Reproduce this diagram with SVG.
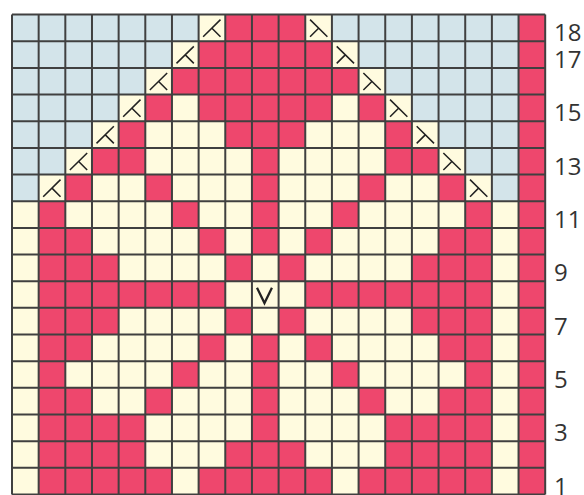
<svg xmlns="http://www.w3.org/2000/svg" width="584" height="495" viewBox="0 0 584 495">
<style>
.c{fill:#fffbdf}
.b{fill:#d3e4ea}
.r{fill:#ee476d}
.grid{fill:none;stroke:#404040;stroke-width:0.075}
.sym{fill:none;stroke:#222;stroke-width:0.058;stroke-linecap:butt}
.v{fill:none;stroke:#222;stroke-width:0.085;stroke-linejoin:miter}
.lbl{font-family:"Open Sans","Noto Sans",sans-serif;font-size:24px;fill:#333}
</style>
<defs>
<path id="dl" d="M0.17 0.83 L0.82 0.19 M0.5 0.51 L0.82 0.83"/>
<path id="dr" d="M0.83 0.83 L0.18 0.19 M0.5 0.51 L0.18 0.83"/>
</defs>
<rect width="584" height="495" fill="#fff"/>
<g id="chart" transform="translate(12 14.6) scale(26.66)">
<rect class="c" x="0" y="0" width="20" height="18"/>
<g id="blue">
<rect class="b" x="0" y="0" width="7" height="1"/><rect class="b" x="12" y="0" width="7" height="1"/>
<rect class="b" x="0" y="1" width="6" height="1"/><rect class="b" x="13" y="1" width="6" height="1"/>
<rect class="b" x="0" y="2" width="5" height="1"/><rect class="b" x="14" y="2" width="5" height="1"/>
<rect class="b" x="0" y="3" width="4" height="1"/><rect class="b" x="15" y="3" width="4" height="1"/>
<rect class="b" x="0" y="4" width="3" height="1"/><rect class="b" x="16" y="4" width="3" height="1"/>
<rect class="b" x="0" y="5" width="2" height="1"/><rect class="b" x="17" y="5" width="2" height="1"/>
<rect class="b" x="0" y="6" width="1" height="1"/><rect class="b" x="18" y="6" width="1" height="1"/>
</g>
<g id="red">
<rect class="r" x="19" y="0" width="1" height="18"/>
<rect class="r" x="8" y="0" width="3" height="1"/>
<rect class="r" x="7" y="1" width="5" height="1"/>
<rect class="r" x="6" y="2" width="7" height="1"/>
<rect class="r" x="5" y="3" width="1" height="1"/><rect class="r" x="7" y="3" width="5" height="1"/><rect class="r" x="13" y="3" width="1" height="1"/>
<rect class="r" x="4" y="4" width="1" height="1"/><rect class="r" x="8" y="4" width="3" height="1"/><rect class="r" x="14" y="4" width="1" height="1"/>
<rect class="r" x="3" y="5" width="2" height="1"/><rect class="r" x="9" y="5" width="1" height="1"/><rect class="r" x="14" y="5" width="2" height="1"/>
<rect class="r" x="2" y="6" width="1" height="1"/><rect class="r" x="5" y="6" width="1" height="1"/><rect class="r" x="9" y="6" width="1" height="1"/><rect class="r" x="13" y="6" width="1" height="1"/><rect class="r" x="16" y="6" width="1" height="1"/>
<rect class="r" x="1" y="7" width="1" height="1"/><rect class="r" x="6" y="7" width="1" height="1"/><rect class="r" x="9" y="7" width="1" height="1"/><rect class="r" x="12" y="7" width="1" height="1"/><rect class="r" x="17" y="7" width="1" height="1"/>
<rect class="r" x="1" y="8" width="2" height="1"/><rect class="r" x="7" y="8" width="1" height="1"/><rect class="r" x="9" y="8" width="1" height="1"/><rect class="r" x="11" y="8" width="1" height="1"/><rect class="r" x="16" y="8" width="2" height="1"/>
<rect class="r" x="1" y="9" width="3" height="1"/><rect class="r" x="8" y="9" width="1" height="1"/><rect class="r" x="10" y="9" width="1" height="1"/><rect class="r" x="15" y="9" width="3" height="1"/>
<rect class="r" x="1" y="10" width="7" height="1"/><rect class="r" x="11" y="10" width="7" height="1"/>
<rect class="r" x="1" y="11" width="3" height="1"/><rect class="r" x="8" y="11" width="1" height="1"/><rect class="r" x="10" y="11" width="1" height="1"/><rect class="r" x="15" y="11" width="3" height="1"/>
<rect class="r" x="1" y="12" width="2" height="1"/><rect class="r" x="7" y="12" width="1" height="1"/><rect class="r" x="9" y="12" width="1" height="1"/><rect class="r" x="11" y="12" width="1" height="1"/><rect class="r" x="16" y="12" width="2" height="1"/>
<rect class="r" x="1" y="13" width="1" height="1"/><rect class="r" x="6" y="13" width="1" height="1"/><rect class="r" x="9" y="13" width="1" height="1"/><rect class="r" x="12" y="13" width="1" height="1"/><rect class="r" x="17" y="13" width="1" height="1"/>
<rect class="r" x="1" y="14" width="2" height="1"/><rect class="r" x="5" y="14" width="1" height="1"/><rect class="r" x="9" y="14" width="1" height="1"/><rect class="r" x="13" y="14" width="1" height="1"/><rect class="r" x="16" y="14" width="2" height="1"/>
<rect class="r" x="1" y="15" width="4" height="1"/><rect class="r" x="9" y="15" width="1" height="1"/><rect class="r" x="14" y="15" width="4" height="1"/>
<rect class="r" x="1" y="16" width="4" height="1"/><rect class="r" x="8" y="16" width="3" height="1"/><rect class="r" x="14" y="16" width="4" height="1"/>
<rect class="r" x="1" y="17" width="5" height="1"/><rect class="r" x="7" y="17" width="5" height="1"/><rect class="r" x="13" y="17" width="5" height="1"/>
</g>
<path class="grid" d="M0 0V18M1 0V18M2 0V18M3 0V18M4 0V18M5 0V18M6 0V18M7 0V18M8 0V18M9 0V18M10 0V18M11 0V18M12 0V18M13 0V18M14 0V18M15 0V18M16 0V18M17 0V18M18 0V18M19 0V18M20 0V18M0 0H20M0 1H20M0 2H20M0 3H20M0 4H20M0 5H20M0 6H20M0 7H20M0 8H20M0 9H20M0 10H20M0 11H20M0 12H20M0 13H20M0 14H20M0 15H20M0 16H20M0 17H20M0 18H20"/>
<g id="symbols">
<use href="#dl" class="sym" x="7" y="0"/>
<use href="#dl" class="sym" x="6" y="1"/>
<use href="#dl" class="sym" x="5" y="2"/>
<use href="#dl" class="sym" x="4" y="3"/>
<use href="#dl" class="sym" x="3" y="4"/>
<use href="#dl" class="sym" x="2" y="5"/>
<use href="#dl" class="sym" x="1" y="6"/>
<use href="#dr" class="sym" x="11" y="0"/>
<use href="#dr" class="sym" x="12" y="1"/>
<use href="#dr" class="sym" x="13" y="2"/>
<use href="#dr" class="sym" x="14" y="3"/>
<use href="#dr" class="sym" x="15" y="4"/>
<use href="#dr" class="sym" x="16" y="5"/>
<use href="#dr" class="sym" x="17" y="6"/>
<path class="v" d="M9.19 10.25 L9.47 10.82 L9.75 10.25"/>
</g>
</g>
<g id="labels" class="lbl">
<text x="554" y="41.3">18</text>
<text x="554" y="67.9">17</text>
<text x="554" y="121.2">15</text>
<text x="554" y="174.6">13</text>
<text x="554" y="227.9">11</text>
<text x="554" y="281.2">9</text>
<text x="554" y="334.5">7</text>
<text x="554" y="387.8">5</text>
<text x="554" y="441.2">3</text>
<text x="554" y="494.5">1</text>
</g>
</svg>
